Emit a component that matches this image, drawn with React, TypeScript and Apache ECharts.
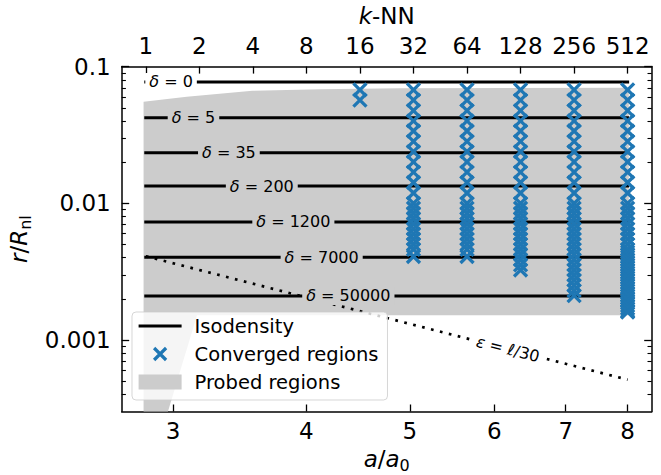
import React, { useEffect, useRef } from 'react';
import * as echarts from 'echarts';

// ---------- axes ----------
const xMin = 2.6852;
const xMax = 8.4265;
const kMin = 0.7318;
const kMax = 699.2;
const yMin = 0.0003;
const yMax = 0.1;
const xTicks = [3, 4, 5, 6, 7, 8];
const kTicks = [1, 2, 4, 8, 16, 32, 64, 128, 256, 512];
const yMajorTicks = [0.001, 0.01, 0.1];
const yMinorTicks = [
  0.0004, 0.0005, 0.0006, 0.0007, 0.0008, 0.0009,
  0.002, 0.003, 0.004, 0.005, 0.006, 0.007, 0.008, 0.009,
  0.02, 0.03, 0.04, 0.05, 0.06, 0.07, 0.08, 0.09,
];

// ---------- isodensity lines ----------
const isoStartA = 2.8284;
const isoEndA = 8.0;
const deltaLabels = ['0', '5', '35', '200', '1200', '7000', '50000'];
const deltaR = [0.0772, 0.0423, 0.02345, 0.01338, 0.0073, 0.00403, 0.0021];
const deltaLabelA = [2.987, 3.135, 3.384, 3.633, 3.889, 4.134, 4.379];

// ---------- epsilon line ----------
const epsA = [2.8284, 8.0];
const epsR = [0.0041, 0.000513];
const epsLabelA = 6.179;
const epsLabelR = 0.000859;

// ---------- probed region (polygon vertices) ----------
const probedA = [2.815, 3.09, 3.56, 4.12, 4.89, 8.02, 8.02, 3.159, 2.967, 2.815];
const probedR = [0.0553, 0.0602, 0.0666, 0.0682, 0.0694, 0.0701, 0.00152, 0.00152, 0.0003, 0.0003];

// ---------- converged regions ----------
const columnA = [4.4898, 5.0397, 5.6569, 6.3496, 7.1272, 8.0];
const r16 = [0.0675, 0.0568];
const r32 = [0.0675, 0.0568, 0.0477, 0.0401, 0.0338, 0.0284, 0.0239, 0.0201, 0.0169, 0.0142, 0.0119, 0.01, 0.0092, 0.00844, 0.00774, 0.00709, 0.00651, 0.00597, 0.00548, 0.00502, 0.0046, 0.00408];
const r64 = [0.0675, 0.0568, 0.0477, 0.0401, 0.0338, 0.0284, 0.0239, 0.0201, 0.0169, 0.0142, 0.0119, 0.01, 0.0092, 0.00844, 0.00774, 0.00709, 0.00651, 0.00597, 0.00548, 0.00502, 0.0046, 0.00408];
const r128 = [0.0675, 0.0568, 0.0477, 0.0401, 0.0338, 0.0284, 0.0239, 0.0201, 0.0169, 0.0142, 0.0119, 0.01, 0.0092, 0.00844, 0.00774, 0.00709, 0.00651, 0.00597, 0.00548, 0.00502, 0.0046, 0.00422, 0.00387, 0.00355, 0.00325];
const r256 = [0.0675, 0.0568, 0.0477, 0.0401, 0.0338, 0.0284, 0.0239, 0.0201, 0.0169, 0.0142, 0.0119, 0.01, 0.0092, 0.00844, 0.00774, 0.00709, 0.00651, 0.00597, 0.00548, 0.00502, 0.0046, 0.00422, 0.00387, 0.00355, 0.00325, 0.00298, 0.00274, 0.00251, 0.0023, 0.00211];
const r512 = [0.0675, 0.0568, 0.0477, 0.0401, 0.0338, 0.0284, 0.0239, 0.0201, 0.0169, 0.0142, 0.0119, 0.01, 0.0092, 0.00844, 0.00774, 0.00709, 0.00651, 0.00597, 0.00548, 0.00502, 0.0046, 0.0044, 0.00422, 0.00404, 0.00387, 0.0037, 0.00355, 0.0034, 0.00325, 0.00311, 0.00298, 0.00286, 0.00274, 0.00262, 0.00251, 0.0024, 0.0023, 0.0022, 0.00211, 0.00202, 0.00194, 0.00186, 0.00178, 0.0017, 0.00163, 0.0016];
const columnR = [r16, r32, r64, r128, r256, r512];

const FONT = 'DejaVu Sans';
const BLUE = '#1f77b4';
const GREY = '#cccccc';

const richBase = {
  i: { fontStyle: 'italic', fontSize: 23, fontFamily: FONT, color: '#000', lineHeight: 30, verticalAlign: 'middle' },
  n: { fontSize: 23, fontFamily: FONT, color: '#000', lineHeight: 30, verticalAlign: 'middle' },
  s: { fontSize: 16, fontFamily: FONT, color: '#000', lineHeight: 18, verticalAlign: 'bottom' },
};

export default function App() {
  const ref = useRef<HTMLDivElement>(null);
  useEffect(() => {
    document.body.style.margin = '0';
    if (!ref.current) return;
    const chart = echarts.init(ref.current, null, { renderer: 'svg' });

    const convergedData: number[][] = [];
    columnR.forEach((rs, ci) => rs.forEach((r) => convergedData.push([columnA[ci], r])));

    const isoSeries = deltaR.map((r) => ({
      name: 'Isodensity',
      type: 'line',
      data: [[isoStartA, r], [isoEndA, r]],
      symbol: 'none',
      showSymbol: false,
      silent: true,
      z: 2,
      lineStyle: { color: '#000', width: 3, cap: 'square' },
      itemStyle: { color: '#000' },
    }));

    const noBorder = { textBorderWidth: 0, textBorderColor: 'transparent', textShadowBlur: 0 };
    const labelRich = {
      i: { fontStyle: 'italic', fontSize: 16, fontFamily: FONT, color: '#000', ...noBorder },
      n: { fontSize: 16, fontFamily: FONT, color: '#000', ...noBorder },
    };

    const tickAxisCommon = {
      splitLine: { show: false },
      axisPointer: { show: false },
    };

    const option: any = {
      animation: false,
      textStyle: { fontFamily: FONT },
      grid: { left: 121.7, right: 9.3, top: 66.6, bottom: 63.5, outerBoundsMode: 'none' },
      legend: {
        orient: 'vertical',
        left: 132,
        top: 312,
        itemWidth: 43,
        itemHeight: 15,
        itemGap: 8,
        padding: [4, 9, 8, 5],
        backgroundColor: 'rgba(255,255,255,0.8)',
        borderColor: 'rgba(204,204,204,0.8)',
        borderWidth: 1,
        borderRadius: 4,
        selectedMode: false,
        textStyle: { fontSize: 19.5, color: '#000', fontFamily: FONT, padding: [0, 0, 0, 8] },
        data: [
          {
            name: 'Isodensity',
            icon: 'path://M0,0M43,15M0,6L43,6L43,9L0,9Z',
            itemStyle: { color: '#000', borderWidth: 0 },
          },
          {
            name: 'Converged regions',
            icon: 'path://M0,0M43,15M15.5,1.5L27.5,13.5M27.5,1.5L15.5,13.5',
            itemStyle: { color: BLUE, borderColor: BLUE, borderWidth: 3.2 },
          },
          { name: 'Probed regions', icon: 'rect', itemStyle: { color: GREY, borderWidth: 0 } },
        ],
        z: 10,
      },
      xAxis: [
        {
          type: 'log',
          position: 'bottom',
          min: xMin,
          max: xMax,
          ...tickAxisCommon,
          axisLine: { show: true, lineStyle: { color: '#000', width: 1.5 } },
          axisTick: { show: true, inside: true, length: 7, customValues: xTicks, lineStyle: { color: '#000', width: 1.3 } },
          axisLabel: { show: true, customValues: xTicks, margin: 8, fontSize: 23, color: '#000', fontFamily: FONT, formatter: (v: number) => String(Math.round(v)) },
          name: '{i|a}{n|/}{i|a}{s|0}',
          nameLocation: 'middle',
          nameGap: 32,
          nameTextStyle: { rich: richBase },
        },
        {
          type: 'log',
          logBase: 2,
          position: 'top',
          min: kMin,
          max: kMax,
          ...tickAxisCommon,
          axisLine: { show: true, lineStyle: { color: '#000', width: 1.5 } },
          axisTick: { show: true, inside: true, length: 7, customValues: kTicks, lineStyle: { color: '#000', width: 1.3 } },
          axisLabel: { show: true, customValues: kTicks, margin: 9, fontSize: 23, color: '#000', fontFamily: FONT, formatter: (v: number) => String(Math.round(v)) },
          name: '{i|k}{n|-NN}',
          nameLocation: 'middle',
          nameGap: 36,
          nameTextStyle: { rich: richBase },
        },
      ],
      yAxis: [
        {
          type: 'log',
          position: 'left',
          min: yMin,
          max: yMax,
          ...tickAxisCommon,
          axisLine: { show: true, lineStyle: { color: '#000', width: 1.5 } },
          axisTick: { show: true, inside: true, length: 7.5, customValues: yMajorTicks, lineStyle: { color: '#000', width: 1.3 } },
          axisLabel: { show: true, customValues: yMajorTicks, margin: 11, fontSize: 23, color: '#000', fontFamily: FONT, formatter: (v: number) => String(v) },
          name: '{i|r}{n|/}{i|R}{s|nl}',
          nameLocation: 'middle',
          nameGap: 84,
          nameRotate: 90,
          nameTextStyle: { rich: richBase },
        },
        {
          type: 'log',
          position: 'left',
          min: yMin,
          max: yMax,
          ...tickAxisCommon,
          axisLine: { show: false },
          axisTick: { show: true, inside: true, length: 4.2, customValues: yMinorTicks, lineStyle: { color: '#000', width: 1.1 } },
          axisLabel: { show: false },
        },
        {
          type: 'log',
          position: 'right',
          min: yMin,
          max: yMax,
          ...tickAxisCommon,
          axisLine: { show: true, lineStyle: { color: '#000', width: 1.5 } },
          axisTick: { show: true, inside: true, length: 7.5, customValues: yMajorTicks, lineStyle: { color: '#000', width: 1.3 } },
          axisLabel: { show: false },
        },
        {
          type: 'log',
          position: 'right',
          min: yMin,
          max: yMax,
          ...tickAxisCommon,
          axisLine: { show: false },
          axisTick: { show: true, inside: true, length: 4.2, customValues: yMinorTicks, lineStyle: { color: '#000', width: 1.1 } },
          axisLabel: { show: false },
        },
      ],
      series: [
        {
          name: 'Probed regions',
          type: 'custom',
          coordinateSystem: 'cartesian2d',
          xAxisIndex: 0,
          yAxisIndex: 0,
          z: 1,
          silent: true,
          itemStyle: { color: GREY },
          data: probedA.map((a, i) => [a, probedR[i]]),
          renderItem: (params: any, api: any) => {
            if (params.dataIndex !== 0) return null;
            const pts = probedA.map((a, i) => api.coord([a, probedR[i]]));
            return { type: 'polygon', shape: { points: pts }, style: { fill: GREY } };
          },
        },
        ...isoSeries,
        {
          name: 'eps',
          type: 'line',
          data: epsA.map((a, i) => [a, epsR[i]]),
          symbol: 'none',
          showSymbol: false,
          silent: true,
          z: 2,
          lineStyle: { color: '#000', width: 2.7, type: [2.7, 6.5], cap: 'butt' },
        },
        {
          name: 'Converged regions',
          type: 'scatter',
          data: convergedData,
          symbol: 'path://M0,0L10,10M10,0L0,10',
          symbolSize: 13,
          silent: true,
          z: 3,
          itemStyle: { color: BLUE, borderColor: BLUE, borderWidth: 3.3, opacity: 1 },
        },
        {
          name: 'deltaLabels',
          type: 'scatter',
          symbolSize: 0,
          silent: true,
          z: 5,
          data: deltaLabels.map((d, i) => ({
            value: [deltaLabelA[i], deltaR[i]],
            label: { backgroundColor: i === 0 ? '#ffffff' : GREY },
          })),
          label: {
            show: true,
            position: 'inside',
            color: '#000',
            opacity: 1,
            ...noBorder,
            padding: [1, 4, 1, 4],
            formatter: (p: any) => '{i|δ}{n| = ' + deltaLabels[p.dataIndex] + '}',
            rich: labelRich,
          },
          labelLayout: { hideOverlap: false },
        },
        {
          name: 'epsLabel',
          type: 'scatter',
          symbolSize: 0,
          silent: true,
          z: 5,
          data: [[epsLabelA, epsLabelR]],
          label: {
            show: true,
            position: 'inside',
            color: '#000',
            opacity: 1,
            ...noBorder,
            rotate: -14.2,
            backgroundColor: '#ffffff',
            padding: [0, 7, 0, 7],
            formatter: () => '{i|ε}{n| = ℓ/30}',
            rich: labelRich,
          },
        },
      ],
    };

    chart.setOption(option);
    return () => chart.dispose();
  }, []);

  return <div ref={ref} style={{ width: 661, height: 475 }} />;
}
